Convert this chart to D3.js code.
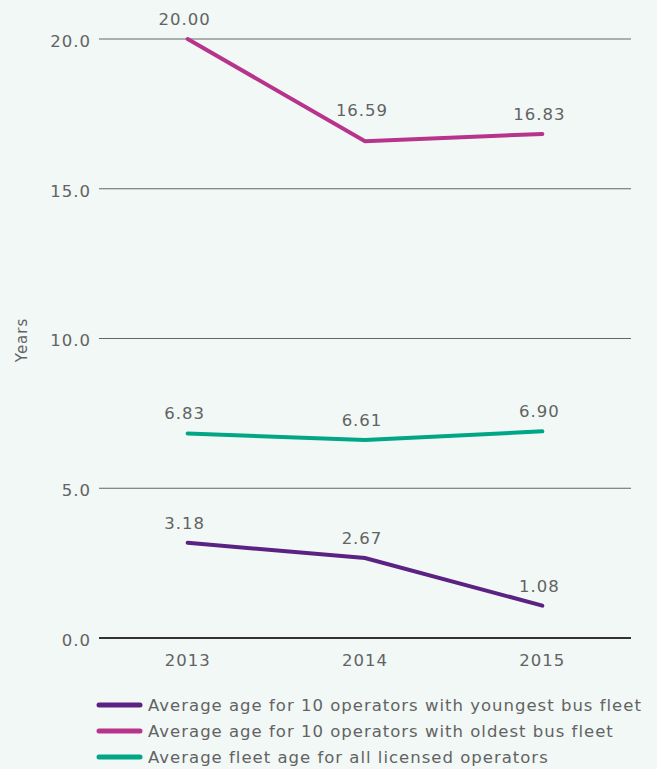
<!DOCTYPE html>
<html>
<head>
<meta charset="utf-8">
<script src="https://cdn.jsdelivr.net/npm/d3@7"></script>
<style>
  html, body { margin: 0; padding: 0; background: #f1f8f6; }
  svg { display: block; }
  text { font-family: "DejaVu Sans", sans-serif; fill: #636363; letter-spacing: 1px; }
</style>
</head>
<body>
<svg id="chart" width="657" height="769"></svg>
<script>
// Bus fleet age by year
const years = ["2013", "2014", "2015"];
const youngest = [3.18, 2.67, 1.08];
const oldest = [20.00, 16.59, 16.83];
const allOperators = [6.83, 6.61, 6.90];
const yTicks = [0, 5, 10, 15, 20];
const seriesNames = [
  "Average age for 10 operators with youngest bus fleet",
  "Average age for 10 operators with oldest bus fleet",
  "Average fleet age for all licensed operators"
];
const seriesColors = ["#5c2283", "#b8338c", "#00a686"];

const series = [
  { name: seriesNames[0], values: youngest, color: seriesColors[0] },
  { name: seriesNames[1], values: oldest, color: seriesColors[1] },
  { name: seriesNames[2], values: allOperators, color: seriesColors[2] }
];

const svg = d3.select("#chart");
const plot = { left: 99, right: 631, top: 39, bottom: 638 };
const fontSize = "16.5px";

const x = d3.scalePoint().domain(years).range([plot.left, plot.right]).padding(0.5);
const y = d3.scaleLinear().domain([0, 20]).range([plot.bottom, plot.top]);

// gridlines and y tick labels
const yAxis = svg.append("g");
yAxis.selectAll("line").data(yTicks).enter().append("line")
  .attr("x1", plot.left).attr("x2", plot.right)
  .attr("y1", d => y(d)).attr("y2", d => y(d))
  .attr("stroke", d => d === 0 ? "#333" : "#666")
  .attr("stroke-width", d => d === 0 ? 2 : 1);
yAxis.selectAll("text").data(yTicks).enter().append("text")
  .attr("x", 91).attr("y", d => y(d) + 2)
  .attr("dy", "0.35em")
  .attr("text-anchor", "end")
  .style("font-size", fontSize)
  .text(d => d3.format(".1f")(d));

// x axis labels
svg.append("g").selectAll("text").data(years).enter().append("text")
  .attr("x", d => x(d)).attr("y", 666)
  .attr("text-anchor", "middle")
  .style("font-size", fontSize)
  .text(d => d);

// y axis title
svg.append("text")
  .attr("transform", "translate(22,340) rotate(-90)")
  .attr("text-anchor", "middle")
  .attr("dy", "0.35em")
  .style("font-size", "15px")
  .text("Years");

// lines
const line = d3.line()
  .x((d, i) => x(years[i]))
  .y(d => y(d));

svg.append("g").selectAll("path").data(series).enter().append("path")
  .attr("d", d => line(d.values))
  .attr("fill", "none")
  .attr("stroke", d => d.color)
  .attr("stroke-width", 4)
  .attr("stroke-linecap", "round");

// value labels
const labelOffset = { "16.59": 25 };
series.forEach(s => {
  svg.append("g").selectAll("text").data(s.values).enter().append("text")
    .attr("x", (d, i) => x(years[i]) - 3)
    .attr("y", d => y(d) - (labelOffset[d.toFixed(2)] || 14))
    .attr("text-anchor", "middle")
    .style("font-size", fontSize)
    .text(d => d.toFixed(2));
});

// legend
const legend = svg.append("g").selectAll("g").data(series).enter().append("g")
  .attr("transform", (d, i) => `translate(0,${705 + i * 26})`);
legend.append("line")
  .attr("x1", 99).attr("x2", 140)
  .attr("y1", 0).attr("y2", 0)
  .attr("stroke", d => d.color)
  .attr("stroke-width", 5)
  .attr("stroke-linecap", "round");
legend.append("text")
  .attr("x", 148).attr("y", 0)
  .attr("dy", "0.35em")
  .style("font-size", fontSize)
  .text(d => d.name);
</script>
</body>
</html>
